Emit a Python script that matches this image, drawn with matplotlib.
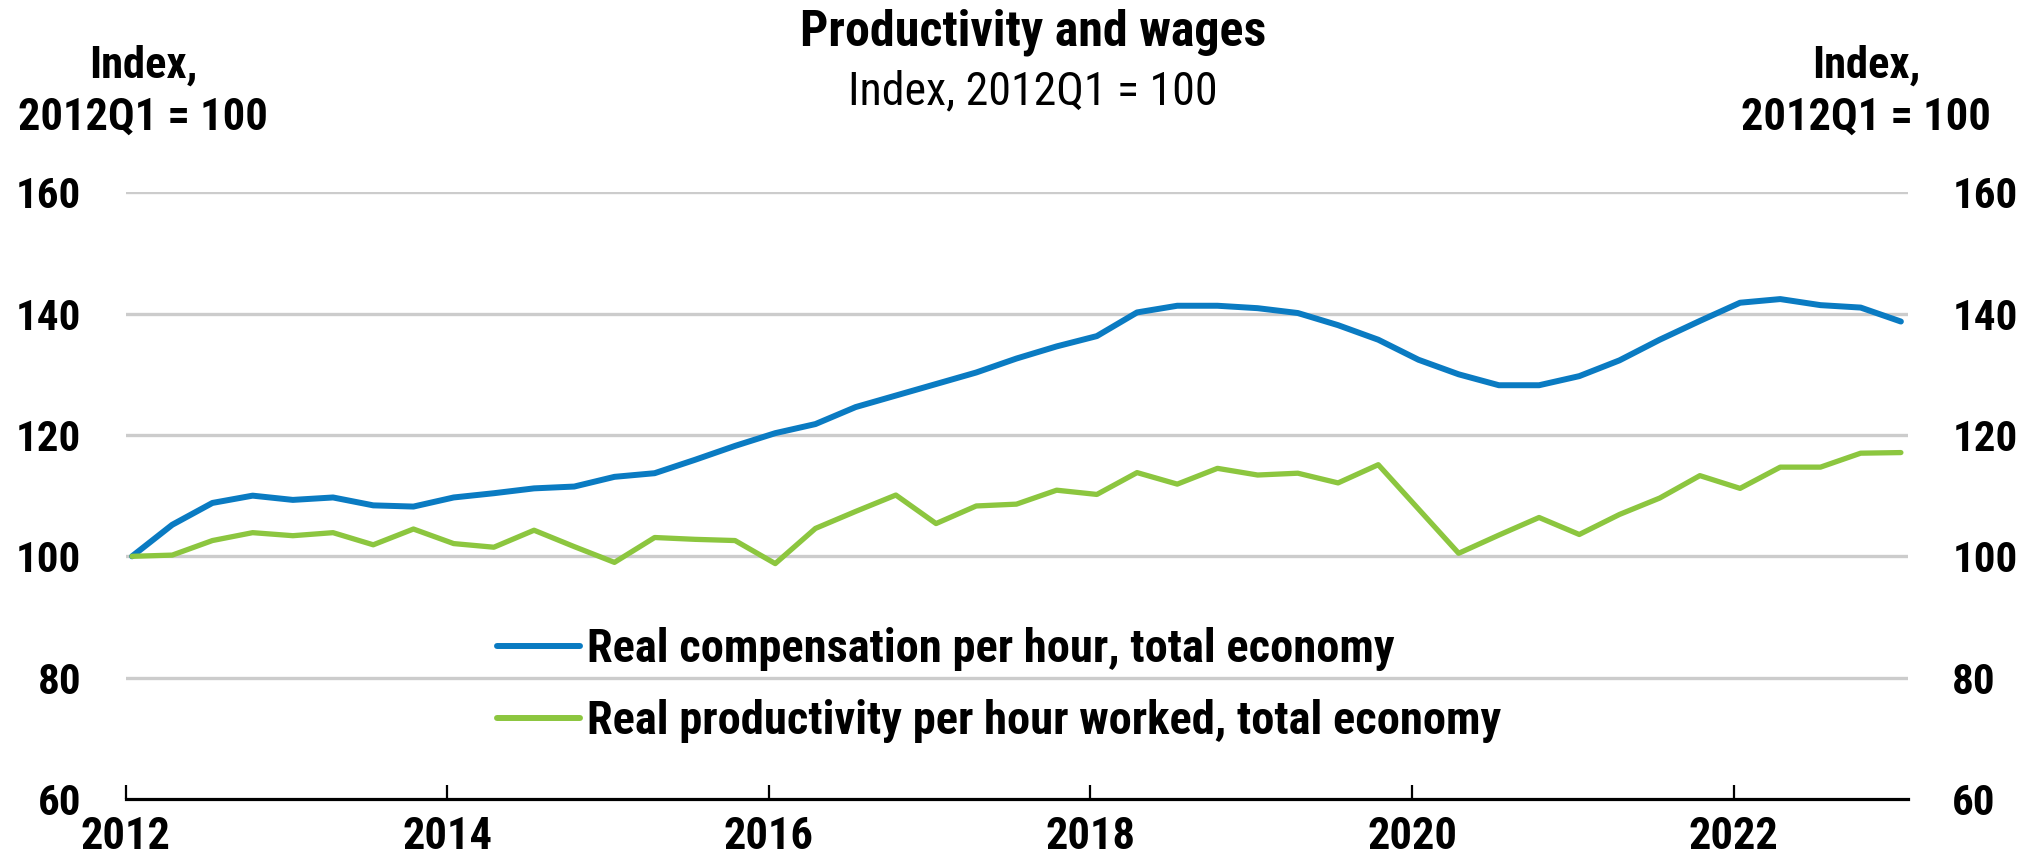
import matplotlib
matplotlib.use("Agg")
import matplotlib.pyplot as plt
from matplotlib import font_manager as fm
import numpy as np

# ---------------- data ----------------
start_year = 2012
compensation = [100.0, 105.2, 108.8, 110.0, 109.3, 109.7, 108.4, 108.2,
                109.7, 110.4, 111.2, 111.5, 113.1, 113.7, 115.9, 118.2,
                120.3, 121.8, 124.6, 126.5, 128.4, 130.3, 132.6, 134.6,
                136.3, 140.2, 141.3, 141.3, 140.9, 140.1, 138.1, 135.7,
                132.4, 130.0, 128.2, 128.2, 129.7, 132.3, 135.7, 138.8,
                141.8, 142.4, 141.4, 141.0, 138.7]
productivity = [100.0, 100.2, 102.6, 103.9, 103.4, 103.9, 101.9, 104.5,
                102.1, 101.5, 104.3, 101.6, 99.0, 103.1, 102.8, 102.6,
                98.8, 104.6, 107.4, 110.1, 105.4, 108.3, 108.6, 110.9,
                110.2, 113.8, 111.9, 114.5, 113.4, 113.7, 112.1, 115.1,
                107.8, 100.5, 103.5, 106.4, 103.6, 106.9, 109.6, 113.3,
                111.2, 114.7, 114.7, 117.0, 117.1]
series_labels = ["Real compensation per hour, total economy",
                 "Real productivity per hour worked, total economy"]
year_ticks = [2012, 2014, 2016, 2018, 2020, 2022]
y_ticks = [60, 80, 100, 120, 140, 160]
title = "Productivity and wages"
subtitle = "Index, 2012Q1 = 100"
axis_note = "Index,\n2012Q1 = 100"

n = len(compensation)
x = start_year + np.arange(n) * 0.25 + 0.04

# ---------------- fonts: prefer a narrow/condensed family ----------------
entries = fm.fontManager.ttflist
names = {f.name for f in entries}
family = None
stretch = "normal"
for cand in ["Liberation Sans Narrow", "Arial Narrow", "Roboto Condensed",
             "Open Sans Condensed", "Noto Sans Condensed", "Lato Condensed"]:
    if cand in names:
        family = cand
        break
if family is None:
    for f in entries:
        if ("Narrow" in f.name or "Condensed" in f.name) and f.weight in (700, "bold"):
            family = f.name
            break
if family is None:
    for f in entries:
        if f.name == "DejaVu Sans" and f.stretch in ("condensed", "semi-condensed", 300, 400):
            family = "DejaVu Sans"
            stretch = "condensed"
            break
narrow = family is not None
if family is None:
    family = "Liberation Sans"
plt.rcParams["font.family"] = [family, "DejaVu Sans"]
plt.rcParams["font.stretch"] = stretch

k = 1.0 if narrow else 0.84
FS_TICK = 31 * k
FS_NOTE = 32 * k
FS_TITLE = 36 * k
FS_SUB = 33 * k
FS_LEG = 33.5 * k

BLUE = "#0A7BC2"
GREEN = "#8CC63F"

fig = plt.figure(figsize=(20.33, 8.64), dpi=100)
ax = fig.add_axes([125.6 / 2033, 1 - 799 / 864, (1907.8 - 125.6) / 2033, (799 - 192.3) / 864])

ax.plot(x, compensation, color=BLUE, lw=4.3, solid_capstyle="round",
        solid_joinstyle="round", label=series_labels[0], zorder=3)
ax.plot(x, productivity, color=GREEN, lw=3.8, solid_capstyle="round",
        solid_joinstyle="round", label=series_labels[1], zorder=3)

ax.set_xlim(2012, 2023.083)
ax.set_ylim(60, 160)

for v in y_ticks[1:]:
    ax.axhline(v, color="#CCCCCC", lw=2.4, zorder=1)

for s in ["top", "left", "right"]:
    ax.spines[s].set_visible(False)
ax.spines["bottom"].set_linewidth(2.3)
ax.spines["bottom"].set_color("black")
ax.spines["bottom"].set_zorder(4)

ax.set_xticks(year_ticks)
ax.set_xticklabels([str(y) for y in year_ticks], fontsize=FS_TICK + 1, fontweight="bold")
ax.tick_params(axis="x", direction="in", length=10, width=1.6, pad=12, color="black")

ax.set_yticks(y_ticks)
ax.set_yticklabels([str(v) for v in y_ticks], fontsize=FS_TICK, fontweight="bold")
ax.tick_params(axis="y", length=0, pad=32)

ax2 = ax.twinx()
ax2.set_ylim(60, 160)
ax2.set_yticks(y_ticks)
ax2.set_yticklabels([str(v) for v in y_ticks], fontsize=FS_TICK, fontweight="bold")
ax2.tick_params(axis="y", length=0, pad=32)
for s in ["top", "left", "right", "bottom"]:
    ax2.spines[s].set_visible(False)

leg = ax.legend(loc="upper left", bbox_to_anchor=((497 - 125.6) / 1782.2, (799 - 627) / 606.7),
                frameon=False, prop={"size": FS_LEG, "weight": "bold"},
                handlelength=83 / (FS_LEG * 100 / 72), handletextpad=0.15, labelspacing=0.6,
                borderaxespad=0, borderpad=0)
for line in leg.get_lines():
    line.set_linewidth(4.3)
    line.set_solid_capstyle("round")

fig.text(0.508, 1 - 32 / 864, title, ha="center", va="center", fontsize=FS_TITLE, fontweight="bold")
fig.text(0.508, 1 - 91 / 864, subtitle, ha="center", va="center", fontsize=FS_SUB)

fig.text(143 / 2033, 1 - 92 / 864, axis_note, ha="center", va="center", fontsize=FS_NOTE,
         fontweight="bold", multialignment="center", linespacing=1.3)
fig.text(1866 / 2033, 1 - 92 / 864, axis_note, ha="center", va="center", fontsize=FS_NOTE,
         fontweight="bold", multialignment="center", linespacing=1.3)

fig.savefig("out.png", dpi=100, facecolor="white")
